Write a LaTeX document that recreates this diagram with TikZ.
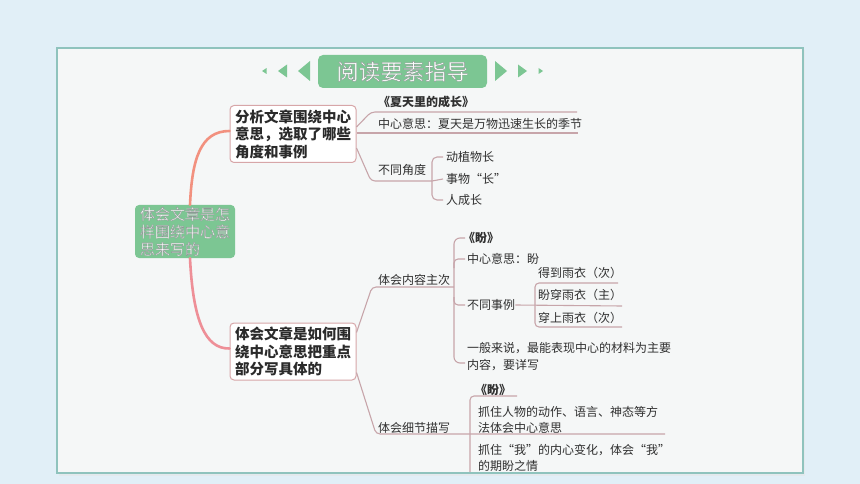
\documentclass[tikz,border=0pt]{standalone}
\usepackage{fontspec}
\setmainfont{Noto Sans CJK SC}

\definecolor{pagebg}{HTML}{E1EFF7}
\definecolor{panel}{HTML}{F5F7F7}
\definecolor{framec}{HTML}{8FC3BD}
\definecolor{mintc}{HTML}{7CC693}
\definecolor{boxline}{HTML}{D7A6A8}
\definecolor{upline}{HTML}{F2917F}
\definecolor{lowline}{HTML}{EE8F97}
\definecolor{subline}{HTML}{C7A5AA}
\definecolor{topicink}{HTML}{2A2A2A}
\definecolor{leafink}{HTML}{303030}

% white letters with a grey rim
\newcommand{\hollow}[1]{\special{pdf:literal direct 0.55 0.6 0.58 RG 2 Tr 0.4 w}#1\special{pdf:literal direct 0 Tr}}

\begin{document}
\begin{tikzpicture}[x=1pt, y=-1pt,
  every node/.style={inner sep=0pt},
  sub/.style={draw=subline, line width=1.1pt, rounded corners=4pt},
  leaf/.style={anchor=west, align=left, text=leafink, font=\fontsize{12}{16.5}\selectfont},
  topic/.style={draw=boxline, line width=1pt, fill=white, rounded corners=4pt,
    minimum width=126pt, minimum height=57pt, text width=116pt, align=left,
    text=topicink, font=\fontsize{14.5}{17.5}\selectfont\bfseries},
  arrowtri/.style={fill=mintc}]

  % page and panel
  \fill[pagebg] (0,0) rectangle (860,484);
  \fill[black!10, opacity=0.5] (59,50) rectangle (805,476);
  \fill[panel] (57,48) rectangle (803,473);

  % title bar
  \node[fill=mintc, rounded corners=5pt, minimum width=169pt, minimum height=33pt,
    text=white, font=\fontsize{22}{22}\selectfont] (title) at (402.5,71.5) {\hollow{阅读要素指导}};
  \foreach \tip/\base/\h in {298/310/10, 278/287/6.5, 262/266.5/3}
    \fill[arrowtri] (\tip,71) -- (\base,71-\h) -- (\base,71+\h) -- cycle;
  \foreach \tip/\base/\h in {507/495/10, 527/518/6.5, 543/538.5/3}
    \fill[arrowtri] (\tip,71) -- (\base,71-\h) -- (\base,71+\h) -- cycle;

  % centre and two main topics
  \node[fill=mintc, rounded corners=4pt, minimum width=100pt, minimum height=53pt,
    text width=90pt, align=left, text=white, font=\fontsize{15}{17.5}\selectfont]
    (root) at (185,231.5) {\hollow{体会文章是怎\\样围绕中心意\\思来写的}};
  \node[topic] (b1) at (293,134) {分析文章围绕中心\\意思，选取了哪些\\角度和事例};
  \node[topic] (b2) at (293,351.5) {体会文章是如何围\\绕中心意思把重点\\部分写具体的};

  \draw[upline, line width=2.6pt, line cap=round]
    ([xshift=5pt]root.north) .. controls (192,160) and (200,131) .. ([yshift=3pt]b1.west);
  \draw[lowline, line width=2.6pt, line cap=round]
    ([xshift=5pt]root.south) .. controls (193,320) and (205,349) .. ([yshift=3pt]b2.west);

  % first topic
  \node[leaf, font=\fontsize{12}{16.5}\selectfont\bfseries] (book1) at (378,102) {《夏天里的成长》};
  \node[leaf] (idea1) at (378,124) {中心意思：夏天是万物迅速生长的季节};
  \node[leaf] (angle) at (378,170) {不同角度};
  \node[leaf] (a1) at (446,157) {动植物长};
  \node[leaf] (a2) at (446,179) {事物“长”};
  \node[leaf] (a3) at (446,200) {人成长};

  \draw[sub] ([yshift=7pt]b1.east) -- (371,112) -- (577,112);
  \draw[sub] ([yshift=1pt]b1.east) -- (578,133);
  \draw[sub] ([yshift=-14pt]b1.east) -- (371,181) -- (432,181);
  \draw[sub, rounded corners=5pt] ([xshift=-3pt]a1.west) -| (432,181) |- ([xshift=-3pt]a3.west);
  \draw[sub] (432,181) -- ([xshift=-3pt]a2.west);

  % second topic, upper part
  \node[leaf] (main) at (378,280) {体会内容主次};
  \node[leaf, font=\fontsize{12}{16.5}\selectfont\bfseries] (book2) at (463,238) {《盼》};
  \node[leaf] (idea2) at (467,259) {中心意思：盼};
  \node[leaf] (cases) at (467,305) {不同事例};
  \node[leaf] (c1) at (538,273) {得到雨衣（次）};
  \node[leaf] (c2) at (538,295) {盼穿雨衣（主）};
  \node[leaf] (c3) at (538,318) {穿上雨衣（次）};
  \node[leaf] (rule) at (467,356.5) {一般来说，最能表现中心的材料为主要\\内容，要详写};

  \draw[sub] ([yshift=19pt]b2.east) -- (372,287) -- (454,287);
  \draw[sub, rounded corners=6pt] ([xshift=2pt]book2.west) -| (454,363) -- (465,363);
  \draw[sub] (454,268) |- ([xshift=-2pt]idea2.west);
  \draw[sub] (454,297) |- ([xshift=-2pt]cases.west);
  \draw[sub] (cases.east) -- (622,306);
  \draw[sub] (618,283) -| (535,327) -- (622,327);

  % second topic, lower part
  \node[leaf] (detail) at (378,428) {体会细节描写};
  \node[leaf, font=\fontsize{12}{16.5}\selectfont\bfseries] (book3) at (475,390) {《盼》};
  \node[leaf] (d1) at (478,420) {抓住人物的动作、语言、神态等方\\法体会中心意思};
  \node[leaf] (d2) at (478,458) {抓住“我”的内心变化，体会“我”\\的期盼之情};

  \draw[sub] ([yshift=-21pt]b2.east) -- (376,434) -- (665,434);
  \draw[sub] (517,396) -| (470,473);

  % panel rim on top
  \draw[framec, line width=2.2pt] (57,48) rectangle (803,473);
\end{tikzpicture}
\end{document}
